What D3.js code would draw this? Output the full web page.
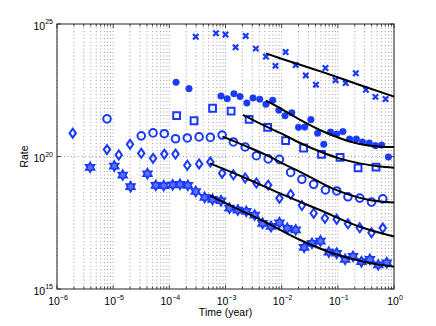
<!DOCTYPE html>
<html>
<head>
<meta charset="utf-8">
<script src="https://cdn.jsdelivr.net/npm/d3@7"></script>
<style>
body { margin: 0; background: #fff; }
text { font-family: "Liberation Sans", Arial, sans-serif; fill: #000; }
</style>
</head>
<body>
<svg id="chart"></svg>
<script>
var width = 436, height = 326;
var margin = {top: 24, right: 42, bottom: 37, left: 57};
var plotW = width - margin.left - margin.right, plotH = height - margin.top - margin.bottom;

// values, as [log10(time in years), log10(rate)]
var crossPts = [[-3.53, 24.52], [-3.17, 24.65], [-3.00, 24.60], [-2.82, 24.12], [-2.64, 24.55], [-2.46, 24.07],
    [-2.28, 23.77], [-2.11, 23.42], [-1.93, 23.94], [-1.75, 23.45], [-1.57, 23.06], [-1.39, 22.71], [-1.22, 23.34],
    [-1.04, 22.88], [-0.86, 22.77], [-0.68, 23.14], [-0.50, 22.52], [-0.33, 22.25], [-0.15, 22.17]];
var dotPts = [[-3.88, 22.80], [-3.65, 22.56], [-3.08, 22.28], [-2.97, 22.18], [-2.85, 22.37], [-2.74, 22.26],
    [-2.62, 22.02], [-2.51, 22.21], [-2.39, 22.16], [-2.28, 21.97], [-2.16, 22.12], [-2.05, 21.75], [-1.94, 21.54],
    [-1.82, 21.65], [-1.70, 21.10], [-1.59, 21.11], [-1.48, 21.39], [-1.36, 20.88], [-1.25, 20.46], [-1.13, 20.92],
    [-1.02, 20.85], [-0.91, 20.94], [-0.79, 20.66], [-0.67, 20.66], [-0.56, 20.55], [-0.44, 20.51], [-0.33, 20.41],
    [-0.22, 20.43], [-0.10, 19.98]];
var squarePts = [[-3.87, 21.54], [-3.56, 21.35], [-3.23, 21.82], [-2.90, 21.71], [-2.58, 21.40], [-2.25, 21.10],
    [-1.93, 20.60], [-1.61, 20.32], [-1.29, 20.08], [-0.96, 19.97], [-0.64, 19.57], [-0.32, 19.60]];
var ringPts = [[-5.11, 21.42], [-4.50, 20.78], [-4.29, 20.89], [-4.09, 20.86], [-3.89, 20.67], [-3.68, 20.70],
    [-3.47, 20.74], [-3.27, 20.72], [-3.06, 20.81], [-2.86, 20.55], [-2.65, 20.36], [-2.45, 20.03], [-2.24, 19.91],
    [-2.04, 19.89], [-1.84, 19.40], [-1.64, 19.14], [-1.43, 18.95], [-1.22, 18.74], [-1.02, 18.70], [-0.82, 18.48],
    [-0.61, 18.43], [-0.40, 18.28], [-0.20, 18.40]];
var diamondPts = [[-5.72, 20.88], [-5.11, 20.26], [-4.90, 20.06], [-4.70, 20.46], [-4.50, 20.12], [-4.29, 19.93],
    [-4.09, 20.09], [-3.89, 20.09], [-3.68, 19.67], [-3.47, 19.72], [-3.27, 19.79], [-3.06, 19.37], [-2.86, 19.31],
    [-2.65, 19.19], [-2.45, 19.00], [-2.24, 18.92], [-2.04, 18.42], [-1.84, 18.57], [-1.64, 18.15], [-1.43, 17.86],
    [-1.23, 17.67], [-1.02, 17.63], [-0.82, 17.46], [-0.61, 17.31], [-0.40, 17.12], [-0.20, 17.30]];
var starPts = [[-5.41, 19.59], [-4.98, 19.64], [-4.83, 19.30], [-4.69, 18.86], [-4.39, 19.35], [-4.24, 18.91],
    [-4.10, 18.90], [-3.94, 18.93], [-3.81, 18.95], [-3.67, 18.91], [-3.53, 18.68], [-3.37, 18.46], [-3.23, 18.38],
    [-3.08, 18.33], [-2.93, 18.05], [-2.78, 17.98], [-2.63, 17.93], [-2.48, 17.79], [-2.34, 17.48], [-2.19, 17.36],
    [-2.04, 17.50], [-1.90, 17.29], [-1.75, 17.23], [-1.60, 16.57], [-1.46, 16.72], [-1.31, 16.81], [-1.16, 16.39],
    [-1.02, 16.35], [-0.87, 16.12], [-0.73, 16.23], [-0.58, 16.03], [-0.43, 16.12], [-0.28, 15.91], [-0.13, 15.99]];

// fitted curves (black)
var crossFit = [[-2.28, 23.89], [-2.03, 23.71], [-1.32, 23.22], [-0.61, 22.70], [0, 22.26]];
var dotFit = [[-2.28, 22.11], [-2.03, 21.83], [-1.67, 21.38], [-1.32, 21.00], [-0.96, 20.69], [-0.61, 20.47], [-0.25, 20.37], [0, 20.36]];
var squareFit = [[-2.69, 21.57], [-2.39, 21.25], [-2.03, 20.89], [-1.67, 20.51], [-1.32, 20.19], [-0.96, 19.92], [-0.61, 19.74], [-0.25, 19.62], [0, 19.58]];
var ringFit = [[-3.05, 20.75], [-2.65, 20.40], [-2.26, 20.04], [-2.03, 19.79], [-1.67, 19.42], [-1.09, 18.79], [-0.48, 18.38], [0, 18.26]];
var diamondFit = [[-3.28, 19.74], [-2.65, 19.19], [-2.03, 18.61], [-1.32, 17.98], [-0.61, 17.35], [0, 16.98]];
var starFit = [[-3.28, 18.53], [-2.87, 18.11], [-2.26, 17.49], [-1.67, 16.85], [-1.09, 16.35], [-0.48, 16.00], [0, 15.84]];

var xTickExp = [-6, -5, -4, -3, -2, -1, 0];
var yTickExp = [15, 20, 25];

var blue = "#1a3af8";

var svg = d3.select("#chart").attr("width", width).attr("height", height);
var g = svg.append("g").attr("transform", "translate(" + margin.left + "," + margin.top + ")");

var x = d3.scaleLog().domain([1e-6, 1]).range([0, plotW]);
var y = d3.scaleLog().domain([1e15, 1e25]).range([plotH, 0]);
function px(d) { return x(Math.pow(10, d[0])); }
function py(d) { return y(Math.pow(10, d[1])); }

// grid
var minorX = [];
xTickExp.slice(0, -1).forEach(function(e) {
    for (let k = 1; k <= 9; k++) minorX.push(k * Math.pow(10, e));
});
minorX.push(1);

g.append("g").selectAll("line").data(minorX).join("line")
    .attr("x1", d => x(d)).attr("x2", d => x(d))
    .attr("y1", 0).attr("y2", plotH)
    .style("stroke", "#777").style("stroke-width", 0.7).style("stroke-dasharray", "1,2.5");
g.append("line")
    .attr("x1", 0).attr("x2", plotW)
    .attr("y1", y(1e20)).attr("y2", y(1e20))
    .style("stroke", "#777").style("stroke-width", 0.7).style("stroke-dasharray", "1,2.5");

// ticks, all pointing inwards
var minorOnly = minorX.filter(d => Math.abs(Math.log10(d) - Math.round(Math.log10(d))) > 1e-6);
var majorX = xTickExp.map(e => Math.pow(10, e));
var majorY = yTickExp.map(e => Math.pow(10, e));
var tickG = g.append("g").style("stroke", "#222").style("stroke-width", 0.8);
function vTicks(vals, len) {
    vals.forEach(function(v) {
        tickG.append("line").attr("x1", x(v)).attr("x2", x(v)).attr("y1", plotH).attr("y2", plotH - len);
        tickG.append("line").attr("x1", x(v)).attr("x2", x(v)).attr("y1", 0).attr("y2", len);
    });
}
vTicks(majorX, 4);
vTicks(minorOnly, 2.5);
majorY.forEach(function(v) {
    tickG.append("line").attr("x1", 0).attr("x2", 4).attr("y1", y(v)).attr("y2", y(v));
    tickG.append("line").attr("x1", plotW).attr("x2", plotW - 4).attr("y1", y(v)).attr("y2", y(v));
});

// box
g.append("rect").attr("width", plotW).attr("height", plotH)
    .style("fill", "none").style("stroke", "#222").style("stroke-width", 1);

// tick labels: 10 with a raised exponent
function powLabel(sel, e) {
    sel.append("tspan").text("10");
    sel.append("tspan").attr("dy", -5.5).style("font-size", "7px").text(e);
}
xTickExp.forEach(function(e) {
    var t = g.append("text").attr("x", x(Math.pow(10, e)) + 1).attr("y", plotH + 16)
        .attr("text-anchor", "middle").style("font-size", "10.5px");
    powLabel(t, e < 0 ? "\u2212" + (-e) : e);
});
yTickExp.forEach(function(e) {
    var t = g.append("text").attr("x", -4).attr("y", y(Math.pow(10, e)) + 5.5)
        .attr("text-anchor", "end").style("font-size", "10.5px");
    powLabel(t, e);
});

// axis titles
svg.append("text").attr("x", margin.left + plotW / 2).attr("y", 315.5)
    .attr("text-anchor", "middle").style("font-size", "10.5px").text("Time (year)");
svg.append("text").attr("transform", "translate(27.5," + (margin.top + plotH / 2) + ") rotate(-90)")
    .attr("text-anchor", "middle").style("font-size", "10.5px").text("Rate");

// markers
var markG = g.append("g");
function hexagram(R) {
    var pts = [];
    for (let i = 0; i < 12; i++) {
        var a = -Math.PI / 2 + i * Math.PI / 6, r = i % 2 == 0 ? R : R / Math.sqrt(3);
        pts.push([r * Math.cos(a), r * Math.sin(a)]);
    }
    return "M" + pts.map(p => p[0].toFixed(2) + "," + p[1].toFixed(2)).join("L") + "Z";
}
var shapes = {
    cross: "M-2.7,-2.7L2.7,2.7M-2.7,2.7L2.7,-2.7",
    diamond: "M0,-4.5L3.2,0L0,4.5L-3.2,0Z",
    square: "M-3.4,-3.4H3.4V3.4H-3.4Z",
    star: hexagram(5)
};
function drawPath(data, shape, sw, fill) {
    markG.append("g").selectAll("path").data(data).join("path")
        .attr("transform", d => "translate(" + px(d) + "," + py(d) + ")")
        .attr("d", shapes[shape])
        .style("fill", fill || "none").style("stroke", blue).style("stroke-width", sw)
        .style("stroke-linejoin", "miter");
}
function drawCircle(data, r, filled) {
    markG.append("g").selectAll("circle").data(data).join("circle")
        .attr("cx", px).attr("cy", py).attr("r", r)
        .style("fill", filled ? blue : "none").style("stroke", blue).style("stroke-width", filled ? 0.5 : 2);
}
drawPath(crossPts, "cross", 2.2);
drawCircle(dotPts, 3.3, true);
drawPath(squarePts, "square", 2);
drawCircle(ringPts, 3.8, false);
drawPath(diamondPts, "diamond", 2);
drawPath(starPts, "star", 1.7, "#5a6ffa");

// fits
var line = d3.line().x(px).y(py).curve(d3.curveMonotoneX);
[crossFit, dotFit, squareFit, ringFit, diamondFit, starFit].forEach(function(f) {
    g.append("path").attr("d", line(f))
        .style("fill", "none").style("stroke", "#000").style("stroke-width", 2);
});
</script>
</body>
</html>
